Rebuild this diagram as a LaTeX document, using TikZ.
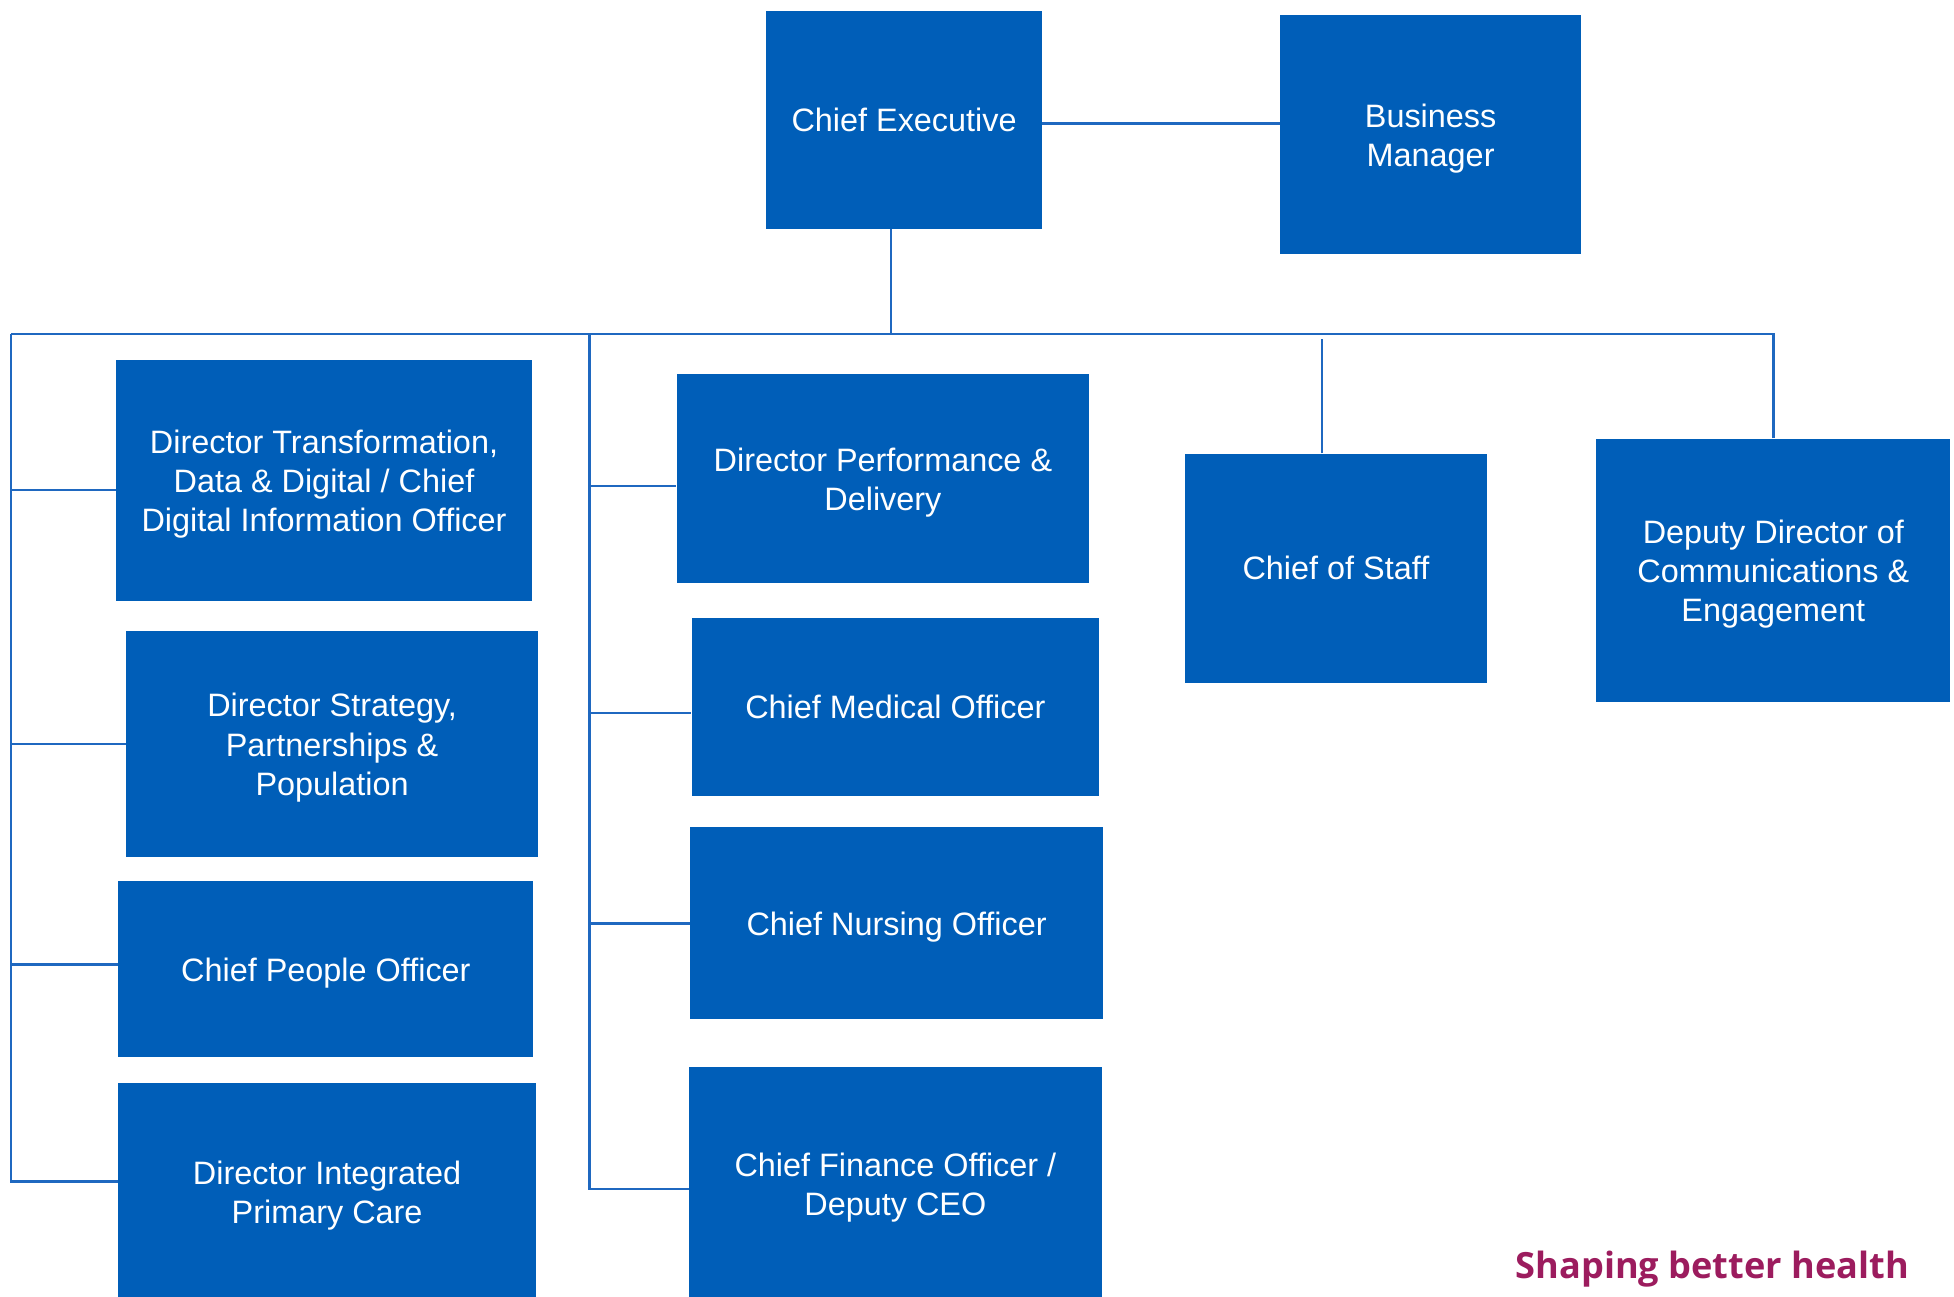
\documentclass[tikz,border=0pt]{standalone}
\usepackage{fontspec}
\setmainfont{Liberation Sans}
\newfontfamily\tagfont{Open Sans}
\usepackage{xcolor}
\usepackage{tikz}
\usetikzlibrary{positioning,calc}
\definecolor{nhsblue}{HTML}{005EB8}
\definecolor{linkblue}{HTML}{1F68C0}
\definecolor{tagpink}{HTML}{9C1C5E}
\newcommand{\lift}{\rule{0pt}{25pt}}

\begin{document}
\begin{tikzpicture}[
  x=1pt, y=1pt,
  every node/.style={font=\fontsize{26}{31.5}\selectfont},
  post/.style={fill=nhsblue, text=white, align=center, inner sep=0pt},
  link/.style={draw=linkblue, line width=2pt}
]
\useasboundingbox (0,0) rectangle (1568,-1040);
\clip (0,0) rectangle (1568,-1040);
\node[post, minimum width=221pt, minimum height=175pt] (ceo) at (725.5,-96) {Chief Executive};
\node[post, minimum width=242pt, minimum height=192pt] (bizmgr) at (1148,-108) {\lift Business\\Manager};
\node[post, minimum width=334pt, minimum height=193pt] (digital) at (260,-385.5) {\lift Director Transformation,\\Data \& Digital / Chief\\Digital Information Officer};
\node[post, minimum width=331pt, minimum height=182pt] (strategy) at (266.5,-597) {\lift Director Strategy,\\Partnerships \&\\Population};
\node[post, minimum width=333pt, minimum height=141pt] (people) at (261.5,-777.5) {\lift Chief People Officer};
\node[post, minimum width=335pt, minimum height=175pt] (primary) at (262.5,-956.5) {\lift Director Integrated\\Primary Care};
\node[post, minimum width=331pt, minimum height=168pt] (perf) at (708.5,-384) {\lift Director Performance \&\\Delivery};
\node[post, minimum width=327pt, minimum height=143pt] (medical) at (718.5,-567.5) {Chief Medical Officer};
\node[post, minimum width=331pt, minimum height=154pt] (nursing) at (719.5,-741) {\lift Chief Nursing Officer};
\node[post, minimum width=331pt, minimum height=188pt] (finance) at (718.5,-950) {\lift Chief Finance Officer /\\Deputy CEO};
\node[post, minimum width=242pt, minimum height=184pt] (staff) at (1072,-456) {Chief of Staff};
\node[post, minimum width=284pt, minimum height=211pt] (comms) at (1423,-457.5) {\lift Deputy Director of\\Communications \&\\Engagement};
\node[font=\tagfont\bfseries\fontsize{29}{32}\selectfont, text=tagpink] (tagline) at (1374,-1018) {Shaping better health};
\coordinate (busL) at (9,-268);
\coordinate (busR) at (1424,-268);
\coordinate (midtop) at (473,-268);
\draw[link] ([yshift=-3pt]ceo.east) -- ([yshift=-3pt]ceo.east -| bizmgr.west);
\draw[link] ([xshift=-10.5pt]ceo.south) -- ([xshift=-10.5pt]ceo.south |- busL);
\draw[link] (busL) -- (busR);
\draw[link] (busL) |- ([yshift=8.5pt]primary.west);
\draw[link] (busL |- digital.west) ++(0,-7.5) -- ([yshift=-7.5pt]digital.west);
\draw[link] (busL |- strategy.west) -- (strategy.west);
\draw[link] (busL |- people.west) ++(0,3.5) -- ([yshift=3.5pt]people.west);
\draw[link] (midtop) |- ([yshift=-4pt]finance.west);
\draw[link] (midtop |- perf.west) ++(0,-6) -- ([yshift=-6pt]perf.west);
\draw[link] (midtop |- medical.west) ++(0,-4.5) -- ([yshift=-4.5pt]medical.west);
\draw[link] (midtop |- nursing.west) -- (nursing.west);
\draw[link] ([xshift=-11pt]staff.north) -- ++(0,92);
\draw[link] (comms.north) -- (comms.north |- busR);
\end{tikzpicture}
\end{document}
